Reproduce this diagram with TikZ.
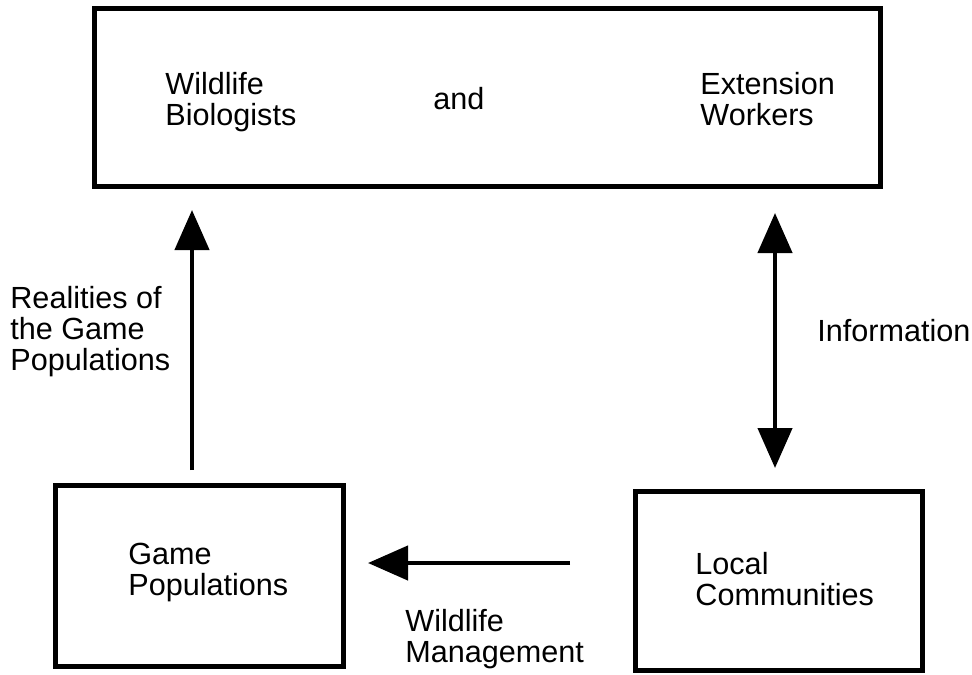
\documentclass[tikz,border=0pt]{standalone}
\usepackage{fontspec}
\setmainfont{Liberation Sans}
\usetikzlibrary{arrows.meta}

\begin{document}
\begin{tikzpicture}[x=0.5pt,y=-0.5pt,
    box/.style={draw,line width=2.5pt,inner sep=0pt,outer sep=0pt},
    txt/.style={inner sep=0pt,anchor=base west,align=left,font=\fontsize{15.3pt}{15.5pt}\selectfont},
    tip/.tip={Triangle[length=20pt,width=17pt]},
    arr/.style={-tip,line width=2.2pt},
    arrd/.style={tip-tip,line width=2.2pt}]
    \useasboundingbox (0,0) rectangle (972,674);

    % 方框
    \node[box,minimum width=393pt,minimum height=88.5pt]  (bio)   at (487,97.5)    {};
    \node[box,minimum width=144pt,minimum height=90.5pt]  (game)  at (199,575.5)   {};
    \node[box,minimum width=143.5pt,minimum height=89.5pt] (local) at (778.5,580.5) {};

    % 文字 (base = 最后一行的基线)
    \node[txt] (biol) at (165,126) {Wildlife\\Biologists};
    \node[txt] (and)  at (433,109) {and};
    \node[txt] (ext)  at (700,126) {Extension\\Workers};
    \node[txt] (gpop) at (128,595) {Game\\Populations};
    \node[txt] (comm) at (695,605) {Local\\Communities};
    \node[txt] (real) at (10,370)  {Realities of\\the Game\\Populations};
    \node[txt] (info) at (817,341) {Information};
    \node[txt] (mgmt) at (405,662) {Wildlife\\Management};

    % 箭头
    \coordinate (upx)   at (192,0);
    \coordinate (infox) at (775,0);
    \coordinate (mgy)   at (0,563);
    \draw[arr,shorten <=7.5pt,shorten >=12pt] (game.north -| upx) -- (bio.south -| upx);
    \draw[arrd,shorten <=13.5pt,shorten >=11.5pt] (bio.south -| infox) -- (local.north -| infox);
    \draw[arr,shorten <=32.5pt,shorten >=12.5pt] (local.west |- mgy) -- (game.east |- mgy);

\end{tikzpicture}
\end{document}
